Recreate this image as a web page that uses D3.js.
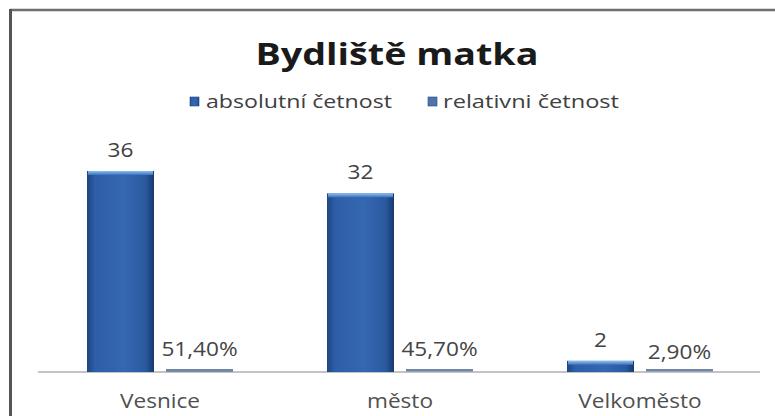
<!DOCTYPE html>
<html>
<head>
<meta charset="utf-8">
<script src="https://cdn.jsdelivr.net/npm/d3@7/dist/d3.min.js"></script>
<style>
  html, body { margin: 0; padding: 0; background: #fff; }
  svg { display: block; }
  text { font-family: "Open Sans", "DejaVu Sans", sans-serif; }
</style>
</head>
<body>
<svg id="chart" width="775" height="416"></svg>
<script>
// Residence of the mother: absolute counts and relative shares
const categories = ["Vesnice", "město", "Velkoměsto"];
const seriesNames = ["absolutní četnost", "relativni četnost"];
const absoluteValues = [36, 32, 2];
const relativeValues = [0.514, 0.457, 0.029];
const absoluteLabels = ["36", "32", "2"];
const relativeLabels = ["51,40%", "45,70%", "2,90%"];
const titleText = "Bydliště matka";

const W = 775, H = 416;
const STRETCH = 1.13; // wide lettering for value and category labels
const svg = d3.select("#chart");

const defs = svg.append("defs");
// bar body: darker sides, brighter middle
const g1 = defs.append("linearGradient").attr("id", "barBody").attr("x1", "0").attr("x2", "1").attr("y1", "0").attr("y2", "0");
g1.append("stop").attr("offset", "0%").attr("stop-color", "#1d4684");
g1.append("stop").attr("offset", "12%").attr("stop-color", "#2d5ea6");
g1.append("stop").attr("offset", "55%").attr("stop-color", "#3567b2");
g1.append("stop").attr("offset", "88%").attr("stop-color", "#2a599f");
g1.append("stop").attr("offset", "100%").attr("stop-color", "#17396d");
// bevel highlight on top
const g2 = defs.append("linearGradient").attr("id", "barTop").attr("x1", "0").attr("x2", "0").attr("y1", "0").attr("y2", "1");
g2.append("stop").attr("offset", "0%").attr("stop-color", "#8fc0f0");
g2.append("stop").attr("offset", "100%").attr("stop-color", "#3a70bd");

function stretch(sel) {
  sel.each(function () {
    const w = this.getComputedTextLength();
    d3.select(this).attr("textLength", w * STRETCH).attr("lengthAdjust", "spacingAndGlyphs");
  });
}

// frame edges
svg.append("line").attr("x1", 10).attr("x2", W).attr("y1", 10).attr("y2", 10)
  .attr("stroke", "#6e6e6e").attr("stroke-width", 2.5);
svg.append("line").attr("x1", 10.5).attr("x2", 10.5).attr("y1", 9).attr("y2", H)
  .attr("stroke", "#555").attr("stroke-width", 3);

// scales
const x = d3.scaleBand().domain(categories).range([40, 760]).paddingInner(0).paddingOuter(0);
const xInner = d3.scaleBand().domain(seriesNames).range([47, 193]).paddingInner(0.152).paddingOuter(0);
const y = d3.scaleLinear().domain([0, 40]).range([372, 148.7]);

// title
svg.append("text").attr("x", 397).attr("y", 65).attr("text-anchor", "middle")
  .attr("font-size", 31).attr("font-weight", 700).attr("fill", "#1a1a1a")
  .attr("textLength", 283).attr("lengthAdjust", "spacingAndGlyphs")
  .text(titleText);

// legend
const legendItems = [
  { name: seriesNames[0], sx: 190, tx: 206, tw: 186, fill: "url(#barBody)" },
  { name: seriesNames[1], sx: 428, tx: 443, tw: 176, fill: "#4f74a8" }
];
legendItems.forEach(it => {
  svg.append("rect").attr("x", it.sx).attr("y", 97).attr("width", 9).attr("height", 9)
    .attr("fill", it.fill).attr("stroke", "#1f4a8a").attr("stroke-width", 0.6);
  svg.append("text").attr("x", it.tx).attr("y", 108).attr("font-size", 18).attr("fill", "#404040")
    .attr("textLength", it.tw).attr("lengthAdjust", "spacingAndGlyphs")
    .text(it.name);
});

// axis line
svg.append("line").attr("x1", 38).attr("x2", 760).attr("y1", 372).attr("y2", 372)
  .attr("stroke", "#c4c4c4").attr("stroke-width", 2);

const groups = svg.selectAll("g.cat").data(categories).join("g")
  .attr("class", "cat").attr("transform", d => `translate(${x(d)},0)`);

// absolute bars
groups.append("rect")
  .attr("x", xInner(seriesNames[0]))
  .attr("y", (d, i) => y(absoluteValues[i]))
  .attr("width", xInner.bandwidth())
  .attr("height", (d, i) => y(0) - y(absoluteValues[i]))
  .attr("fill", "url(#barBody)");
groups.append("rect")
  .attr("x", xInner(seriesNames[0]) + 1)
  .attr("y", (d, i) => y(absoluteValues[i]))
  .attr("width", xInner.bandwidth() - 2)
  .attr("height", 4)
  .attr("fill", "url(#barTop)");

// relative bars (tiny on this scale, kept at least 2px tall so they show)
groups.append("rect")
  .attr("x", xInner(seriesNames[1]))
  .attr("y", (d, i) => Math.min(y(relativeValues[i]), 369))
  .attr("width", xInner.bandwidth())
  .attr("height", (d, i) => Math.max(y(0) - y(relativeValues[i]), 2.5))
  .attr("fill", "#6f86a6");

// value labels
groups.append("text")
  .attr("x", xInner(seriesNames[0]) + xInner.bandwidth() / 2)
  .attr("y", (d, i) => y(absoluteValues[i]) - 14)
  .attr("text-anchor", "middle").attr("font-size", 20).attr("fill", "#404040")
  .text((d, i) => absoluteLabels[i])
  .call(stretch);
groups.append("text")
  .attr("x", xInner(seriesNames[1]) + xInner.bandwidth() / 2)
  .attr("y", (d, i) => y(relativeValues[i]) - 13)
  .attr("text-anchor", "middle").attr("font-size", 20).attr("fill", "#454545")
  .text((d, i) => relativeLabels[i])
  .call(stretch);

// category labels
svg.selectAll("text.cat-label").data(categories).join("text")
  .attr("class", "cat-label")
  .attr("x", d => x(d) + x.bandwidth() / 2)
  .attr("y", 408)
  .attr("text-anchor", "middle").attr("font-size", 20).attr("fill", "#505050")
  .text(d => d)
  .call(stretch);
</script>
</body>
</html>
